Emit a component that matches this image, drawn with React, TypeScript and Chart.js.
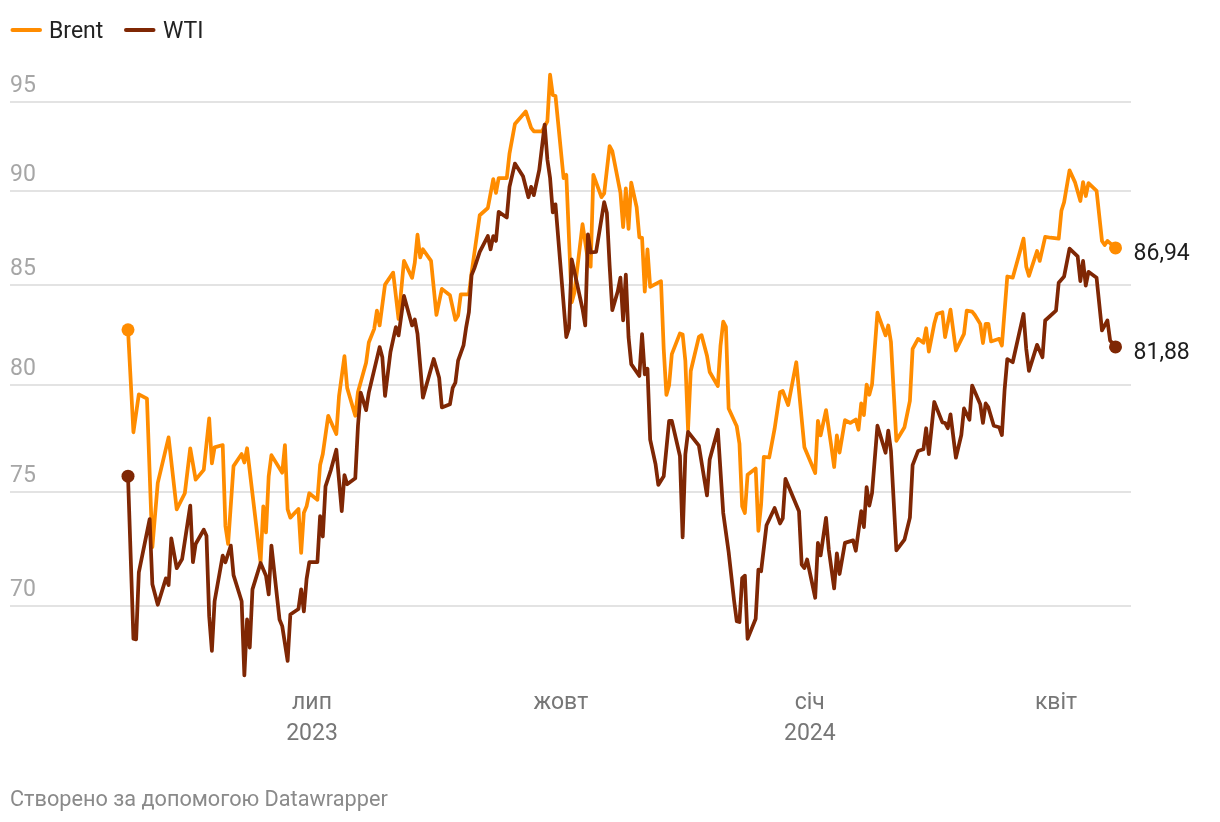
import React, { useEffect, useRef } from "react";
import { Chart, registerables } from "chart.js";

Chart.register(...registerables);

// Days counted from 1 July 2023
const brentDays = [
  -68, -66, -64, -61, -59, -57, -53, -50, -47, -45, -43, -40, -38, -37, -36, -33, -32, -31, -29, -26,
  -25, -24, -19, -18, -17, -16, -15, -11, -10, -9, -8, -5, -4, -3, -2, -1, 2, 3, 4, 6,
  9, 10, 12, 13, 16, 17, 20, 21, 23, 24, 25, 27, 30, 32, 34, 37, 38, 39, 40, 41,
  44, 46, 48, 51, 53, 54, 55, 58, 59, 62, 65, 67, 68, 69, 72, 73, 75, 79, 81, 82,
  85, 87, 88, 89, 90, 93, 94, 96, 97, 100, 102, 103, 104, 107, 108, 110, 111, 114, 115, 116,
  117, 118, 120, 121, 122, 123, 124, 125, 129, 130, 131, 132, 133, 136, 137, 138, 139, 140, 143, 144,
  146, 147, 150, 151, 152, 153, 154, 157, 158, 159, 160, 161, 164, 165, 166, 167, 169, 171, 173, 174,
  176, 179, 182, 186, 187, 188, 190, 192, 193, 194, 195, 197, 199, 201, 202, 203, 204, 205, 206, 207,
  209, 212, 213, 214, 216, 219, 221, 222, 224, 226, 227, 228, 230, 231, 233, 234, 236, 238, 241, 242,
  244, 245, 247, 248, 249, 250, 251, 254, 255, 257, 259, 263, 264, 265, 268, 269, 271, 273, 276, 277,
  278, 280, 282, 284, 285, 286, 287, 290, 292, 293, 294, 297,
];
const brentValues = [
  82.73, 77.75, 79.56, 79.35, 72.52, 75.4, 77.51, 74.2, 74.93, 77.0, 75.55, 76.0, 78.41, 76.3, 77.04, 77.15, 73.46, 72.66, 76.17, 76.73,
  76.34, 77.0, 71.86, 74.34, 73.17, 75.71, 76.68, 75.87, 77.15, 74.2, 73.83, 74.22, 72.27, 74.05, 74.34, 74.93, 74.63, 76.22, 76.73, 78.53,
  77.67, 79.48, 81.42, 79.87, 78.53, 79.67, 81.1, 82.1, 82.78, 83.7, 82.95, 85.03, 85.65, 83.28, 86.26, 85.38, 86.17, 87.64, 86.44, 86.87,
  86.26, 83.48, 84.81, 84.48, 83.23, 83.45, 84.53, 84.53, 85.65, 88.68, 89.07, 90.64, 89.89, 90.7, 90.7, 92.06, 93.72, 94.44, 93.5, 93.31,
  93.31, 93.88, 96.57, 95.39, 95.33, 90.7, 90.88, 84.12, 84.62, 88.2, 86.3, 85.96, 90.88, 89.66, 89.86, 92.47, 92.19, 89.91, 88.04, 90.14,
  87.95, 90.45, 89.11, 87.5, 87.47, 84.67, 86.87, 84.91, 85.21, 81.78, 79.53, 80.0, 81.52, 82.55, 82.5, 81.19, 77.86, 80.69, 82.38, 82.46,
  81.44, 80.64, 79.96, 81.95, 83.14, 82.88, 78.88, 78.03, 77.21, 74.34, 74.04, 75.77, 76.06, 73.24, 74.42, 76.6, 76.57, 77.92, 79.66, 79.72,
  79.04, 81.12, 77.05, 75.85, 78.29, 77.6, 78.8, 77.05, 76.13, 77.6, 76.8, 78.32, 78.19, 78.35, 77.87, 79.12, 78.56, 80.03, 79.54, 80.03,
  83.6, 82.45, 82.95, 82.12, 77.35, 77.99, 79.24, 81.78, 82.28, 82.08, 82.81, 81.65, 83.03, 83.53, 83.62, 82.37, 83.75, 81.7, 82.53, 83.7,
  83.65, 83.48, 83.03, 82.07, 83.03, 83.03, 82.15, 82.28, 81.95, 85.45, 85.39, 87.43, 85.96, 85.48, 86.78, 86.26, 87.53, 87.48, 87.43, 88.92,
  89.39, 91.13, 90.48, 89.45, 90.48, 89.72, 90.42, 90.0, 87.31, 87.09, 87.31, 86.94,
];

const wtiDays = [
  -68, -66, -65, -64, -60, -59, -57, -54, -53, -52, -50, -48, -45, -44, -43, -40, -39, -38, -37, -36,
  -33, -32, -30, -29, -26, -25, -24, -23, -22, -19, -17, -16, -15, -12, -11, -9, -8, -5, -4, -3,
  -2, -1, 2, 3, 4, 5, 7, 9, 11, 12, 13, 16, 17, 18, 20, 21, 25, 26, 27, 29,
  31, 32, 34, 37, 38, 39, 41, 45, 47, 48, 51, 52, 53, 54, 56, 57, 58, 59, 60, 62,
  65, 66, 67, 68, 69, 72, 73, 75, 78, 80, 81, 82, 84, 86, 87, 88, 89, 90, 94, 95,
  96, 97, 100, 101, 102, 103, 105, 108, 109, 110, 111, 113, 114, 115, 116, 117, 118, 121, 122, 123,
  124, 125, 127, 128, 130, 132, 133, 136, 137, 138, 139, 143, 146, 147, 150, 152, 154, 156, 157, 158,
  159, 160, 161, 164, 165, 166, 168, 171, 173, 174, 175, 180, 181, 182, 183, 186, 187, 188, 190, 191,
  193, 194, 195, 197, 200, 201, 203, 204, 205, 206, 207, 209, 212, 213, 214, 216, 219, 221, 222, 224,
  226, 227, 228, 230, 233, 234, 235, 236, 238, 240, 241, 243, 244, 247, 248, 249, 250, 252, 254, 255,
  256, 257, 259, 263, 264, 265, 268, 270, 271, 275, 276, 278, 280, 283, 284, 285, 286, 287, 290, 292,
  294, 295, 297,
];
const wtiValues = [
  75.71, 68.61, 68.58, 71.42, 73.76, 70.91, 70.03, 71.16, 70.87, 72.91, 71.6, 72.0, 74.37, 71.86, 72.66, 73.29, 73.02, 69.55, 68.1, 70.18,
  72.15, 71.86, 72.59, 71.3, 70.18, 67.1, 69.41, 68.24, 70.69, 71.83, 71.27, 70.47, 72.59, 69.41, 69.13, 67.69, 69.62, 69.85, 70.69, 69.75,
  71.13, 71.86, 71.86, 73.9, 72.99, 75.24, 76.0, 76.93, 74.12, 75.76, 75.34, 75.61, 78.06, 79.64, 78.8, 79.64, 81.87, 81.37, 79.48, 81.62,
  82.87, 82.45, 84.45, 82.95, 83.25, 82.53, 79.4, 81.28, 80.36, 78.93, 79.08, 79.87, 80.12, 81.2, 81.95, 82.87, 83.62, 85.53, 85.87, 86.73,
  87.57, 86.87, 87.57, 87.31, 88.86, 88.56, 90.22, 91.5, 90.8, 89.65, 90.22, 89.77, 91.15, 93.69, 91.73, 90.7, 88.83, 89.27, 82.37, 82.81,
  86.34, 85.7, 83.78, 82.95, 87.66, 86.7, 86.73, 89.39, 88.8, 86.03, 83.72, 84.67, 85.39, 83.21, 85.55, 82.37, 81.03, 80.45, 82.51, 80.53,
  80.81, 77.4, 76.25, 75.31, 75.7, 78.29, 78.29, 76.64, 72.95, 76.72, 77.77, 77.12, 74.83, 76.48, 77.87, 74.04, 72.31, 70.22, 69.34, 69.3,
  71.17, 71.28, 68.6, 69.44, 71.54, 71.47, 73.49, 74.26, 73.57, 73.8, 75.58, 74.12, 71.76, 71.61, 71.98, 70.33, 72.71, 72.16, 73.82, 72.43,
  70.73, 72.25, 71.35, 72.71, 72.82, 72.36, 74.12, 73.41, 75.21, 74.37, 74.93, 78.06, 76.79, 77.83, 76.87, 72.38, 72.85, 73.83, 76.22, 76.87,
  76.95, 77.94, 76.73, 79.19, 78.22, 78.19, 77.94, 78.6, 76.56, 77.62, 78.88, 78.34, 79.98, 79.08, 78.19, 79.12, 78.93, 78.06, 77.99, 77.62,
  79.78, 81.28, 81.12, 83.53, 81.78, 80.7, 81.98, 81.37, 83.2, 83.7, 85.13, 85.45, 86.9, 86.5, 85.21, 86.26, 84.98, 85.69, 85.38, 82.7,
  83.2, 82.2, 81.88,
];

const seriesNames = ["Brent", "WTI"];
const endLabels = ["86,94", "81,88"];
const yTicks = [70, 75, 80, 85, 90, 95];
const xTickDays = [0, 92, 184, 275];
const xTickLabels = [["лип", "2023"], ["жовт"], ["січ", "2024"], ["квіт"]];
const footerText = "Створено за допомогою Datawrapper";

const BRENT_COLOR = "#ff8c00";
const WTI_COLOR = "#7f2704";
const FONT = "Roboto, 'Noto Sans', 'DejaVu Sans', sans-serif";

const X_MIN = -111.62;
const X_MAX = 302.72;
const Y_MIN = 66.91;
const Y_MAX = 97.43;

const decorPlugin = {
  id: "decor",
  beforeDatasetsDraw(chart: any) {
    const { ctx, chartArea, scales } = chart;
    const ys = scales.y;
    ctx.save();
    for (const t of yTicks) {
      const py = Math.round(ys.getPixelForValue(t));
      ctx.strokeStyle = "#e3e3e3";
      ctx.lineWidth = 2;
      ctx.beginPath();
      ctx.moveTo(chartArea.left, py);
      ctx.lineTo(chartArea.right, py);
      ctx.stroke();
      ctx.fillStyle = "#a6a6a6";
      ctx.font = `23px ${FONT}`;
      ctx.textAlign = "left";
      ctx.textBaseline = "alphabetic";
      ctx.fillText(String(t), chartArea.left, py - 10);
    }
    ctx.restore();
  },
  afterDraw(chart: any) {
    const { ctx, scales } = chart;
    const xs = scales.x;
    ctx.save();
    // legend
    const colors = [BRENT_COLOR, WTI_COLOR];
    const swatchX = [12.5, 126];
    const textX = [49, 163];
    ctx.lineCap = "round";
    ctx.lineWidth = 4;
    ctx.font = `23px ${FONT}`;
    ctx.textAlign = "left";
    ctx.textBaseline = "alphabetic";
    seriesNames.forEach((name, i) => {
      ctx.strokeStyle = colors[i];
      ctx.beginPath();
      ctx.moveTo(swatchX[i], 30);
      ctx.lineTo(swatchX[i] + 27.5, 30);
      ctx.stroke();
      ctx.fillStyle = "#222222";
      ctx.fillText(name, textX[i], 38);
    });
    // x labels
    ctx.fillStyle = "#777777";
    ctx.textAlign = "center";
    xTickDays.forEach((d, i) => {
      const px = xs.getPixelForValue(d);
      xTickLabels[i].forEach((line, j) => {
        ctx.fillText(line, px, 709 + j * 30.5);
      });
    });
    // end labels
    ctx.fillStyle = "#1d1d1d";
    ctx.textAlign = "left";
    [0, 1].forEach((di) => {
      const meta = chart.getDatasetMeta(di === 0 ? 1 : 0);
      const pt = meta.data[meta.data.length - 1];
      ctx.fillText(endLabels[di], pt.x + 18, pt.y + 12);
    });
    // footer
    ctx.fillStyle = "#8a8a8a";
    ctx.font = `21.7px ${FONT}`;
    ctx.fillText(footerText, 10, 806);
    ctx.restore();
  },
};

export default function App() {
  const ref = useRef<HTMLCanvasElement | null>(null);
  useEffect(() => {
    if (!ref.current) return;
    const mk = (days: number[], vals: number[]) => days.map((d, i) => ({ x: d, y: vals[i] }));
    const radius = (n: number) => (c: any) => (c.dataIndex === 0 || c.dataIndex === n - 1 ? 6.5 : 0);
    const chart = new Chart(ref.current, {
      type: "line",
      data: {
        datasets: [
          {
            label: "WTI",
            data: mk(wtiDays, wtiValues),
            borderColor: WTI_COLOR,
            backgroundColor: WTI_COLOR,
            borderWidth: 3.75,
            tension: 0,
            borderJoinStyle: "round",
            borderCapStyle: "round",
            pointRadius: radius(wtiDays.length),
            pointBorderWidth: 0,
            pointBackgroundColor: WTI_COLOR,
            order: 0,
          },
          {
            label: "Brent",
            data: mk(brentDays, brentValues),
            borderColor: BRENT_COLOR,
            backgroundColor: BRENT_COLOR,
            borderWidth: 3.75,
            tension: 0,
            borderJoinStyle: "round",
            borderCapStyle: "round",
            pointRadius: radius(brentDays.length),
            pointBorderWidth: 0,
            pointBackgroundColor: BRENT_COLOR,
            order: 1,
          },
        ],
      },
      options: {
        animation: false,
        responsive: false,
        devicePixelRatio: 1,
        layout: { padding: { left: 10, right: 1220 - 1131, top: 60, bottom: 822 - 680 } },
        plugins: { legend: { display: false }, tooltip: { enabled: false } },
        events: [],
        scales: {
          x: { type: "linear", display: false, min: X_MIN, max: X_MAX },
          y: { type: "logarithmic", display: false, min: Y_MIN, max: Y_MAX },
        },
      } as any,
      plugins: [decorPlugin],
    });
    return () => chart.destroy();
  }, []);
  return (
    <div style={{ position: "fixed", left: 0, top: 0, width: 1220, height: 822, background: "#ffffff" }}>
      <canvas ref={ref} width={1220} height={822} style={{ display: "block", width: 1220, height: 822 }} />
    </div>
  );
}
